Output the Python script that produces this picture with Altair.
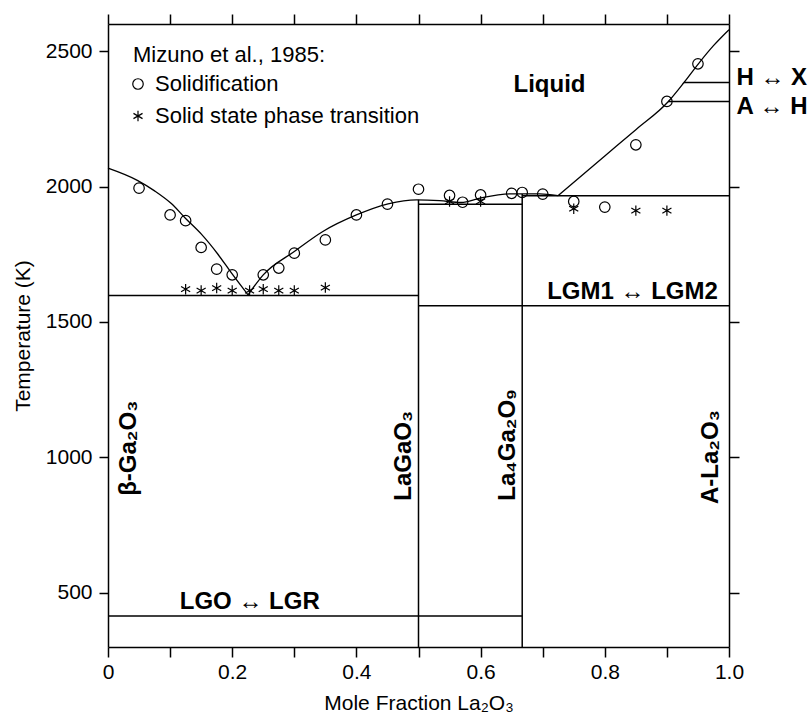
import altair as alt
import pandas as pd

# ---------------- data ----------------
# Mizuno et al., 1985: solidification
sol_x = [0.05, 0.10, 0.125, 0.15, 0.175, 0.20, 0.25, 0.275, 0.30, 0.35, 0.40, 0.45,
         0.50, 0.55, 0.571, 0.60, 0.65, 0.667, 0.70, 0.75, 0.80, 0.85, 0.90, 0.95]
sol_T = [1994, 1895, 1874, 1775, 1695, 1674, 1674, 1699, 1754, 1803, 1895, 1935,
         1990, 1967, 1942, 1969, 1975, 1978, 1972, 1945, 1924, 2154, 2314, 2453]

# Mizuno et al., 1985: solid state phase transition
ss_x = [0.125, 0.15, 0.175, 0.20, 0.228, 0.25, 0.275, 0.30, 0.35, 0.55, 0.60, 0.75, 0.85, 0.90]
ss_T = [1621, 1616, 1625, 1616, 1616, 1621, 1616, 1616, 1627, 1945, 1945, 1918, 1911, 1911]

# liquidus curves
liq_left_x = [0.0, 0.048, 0.075, 0.102, 0.125, 0.150, 0.177, 0.199, 0.2255]
liq_left_T = [2068, 2022, 1984, 1937, 1882, 1825, 1750, 1680, 1600]
liq_mid_x = [0.2255, 0.25, 0.30, 0.346, 0.40, 0.451, 0.497, 0.534, 0.569, 0.599, 0.65, 0.695, 0.7246]
liq_mid_T = [1600, 1674, 1760, 1834, 1895, 1936, 1951, 1948, 1941, 1957, 1973, 1973, 1966]
liq_high_x = [0.7246, 0.80, 0.85, 0.902, 0.9275, 0.951, 0.975, 1.0]
liq_high_T = [1966, 2113, 2210, 2313, 2384, 2454, 2520, 2579]

# phase boundary segments (x1, x2, T1, T2)
seg_x1 = [0.0, 0.0, 0.5, 0.5, 0.667, 0.667, 0.5, 0.902, 0.9275]
seg_x2 = [0.5, 0.667, 0.5, 0.667, 0.667, 1.0, 1.0, 1.0, 1.0]
seg_T1 = [1598, 414, 300, 1935, 300, 1966, 1560, 2314, 2384]
seg_T2 = [1598, 414, 1951, 1935, 1972, 1966, 1560, 2314, 2384]

# annotations
h_labels = ["Liquid", "H ↔ X", "A ↔ H", "LGO ↔ LGR"]
h_x = [0.653, 1.012, 1.012, 0.1155]
h_T = [2374, 2399, 2293, 465]
r_labels = ["LGM1 ↔ LGM2"]
r_x = [0.982]
r_T = [1609]
v_labels = ["β-Ga₂O₃", "LaGaO₃", "La₄Ga₂O₉", "A-La₂O₃"]
v_x = [0.0446, 0.4887, 0.6552, 0.9826]
v_T = [858, 840, 840, 828]

x_tick_values = [0.0, 0.1, 0.2, 0.3, 0.4, 0.5, 0.6, 0.7, 0.8, 0.9, 1.0]
y_tick_values = [500, 1000, 1500, 2000, 2500]

series_names = ["Solidification", "Solid state phase transition"]
ASTERISK = "M0,-1L0,1M-0.866,-0.5L0.866,0.5M-0.866,0.5L0.866,-0.5"

# ---------------- tables ----------------
pts = pd.concat([
    pd.DataFrame({"x": sol_x, "T": sol_T, "series": series_names[0]}),
    pd.DataFrame({"x": ss_x, "T": ss_T, "series": series_names[1]}),
])
curves = pd.concat([
    pd.DataFrame({"x": liq_left_x, "T": liq_left_T, "branch": "left"}),
    pd.DataFrame({"x": liq_mid_x, "T": liq_mid_T, "branch": "mid"}),
    pd.DataFrame({"x": liq_high_x, "T": liq_high_T, "branch": "high"}),
])
segs = pd.DataFrame({"x": seg_x1, "x2": seg_x2, "T": seg_T1, "T2": seg_T2})
hdf = pd.DataFrame({"label": h_labels, "x": h_x, "T": h_T})
rdf = pd.DataFrame({"label": r_labels, "x": r_x, "T": r_T})
vdf = pd.DataFrame({"label": v_labels, "x": v_x, "T": v_T})

FONT = "Liberation Sans"
xs = alt.Scale(domain=[0, 1], nice=False, zero=False)
ys = alt.Scale(domain=[300, 2600], nice=False, zero=False)

common = dict(domainColor="black", domainWidth=1.5, tickColor="black", tickWidth=1.5,
              grid=False, labelFont=FONT, labelColor="black", titleFont=FONT,
              titleColor="black", titleFontWeight="normal")

x_bottom = alt.Axis(orient="bottom", values=x_tick_values, tickSize=10,
                    labelExpr="datum.value == 0 ? '0' : (round(datum.value * 10) % 2 == 0 ? format(datum.value, '.1f') : '')",
                    labelFontSize=21, labelPadding=4, labelFlush=False, labelOverlap=False,
                    title="Mole Fraction La₂O₃", titleFontSize=21, titlePadding=10, **common)
x_top = alt.Axis(orient="top", values=x_tick_values, tickSize=10, labels=False, title=None, **common)
y_left = alt.Axis(orient="left", values=y_tick_values, tickSize=9, format="d",
                  labelFontSize=21, labelPadding=7, labelFlush=False, labelOverlap=False,
                  title="Temperature (K)", titleFontSize=21, titlePadding=12, **common)
y_right = alt.Axis(orient="right", values=y_tick_values, tickSize=10, labels=False, title=None, **common)

rules = alt.Chart(segs).mark_rule(color="black", strokeWidth=1.5).encode(
    x=alt.X("x:Q", scale=xs, axis=x_bottom),
    x2="x2:Q",
    y=alt.Y("T:Q", scale=ys, axis=y_left),
    y2="T2:Q",
)

lines = alt.Chart(curves).mark_line(color="black", strokeWidth=1.3, interpolate="monotone").encode(
    x=alt.X("x:Q", scale=xs, axis=x_top),
    y=alt.Y("T:Q", scale=ys, axis=y_right),
    detail="branch:N",
)

points = alt.Chart(pts).mark_point(filled=False, color="black", strokeWidth=1.2, size=110, opacity=1).encode(
    x=alt.X("x:Q", scale=xs, axis=None),
    y=alt.Y("T:Q", scale=ys, axis=None),
    shape=alt.Shape("series:N",
                    scale=alt.Scale(domain=series_names, range=["circle", ASTERISK]),
                    legend=alt.Legend(orient="none", legendX=25, legendY=21,
                                      title="Mizuno et al., 1985:", titleFont=FONT,
                                      titleFontSize=22, titleFontWeight="normal", titleColor="black",
                                      titleLimit=600,
                                      labelFont=FONT, labelFontSize=22, labelColor="black",
                                      symbolSize=110, symbolStrokeColor="black",
                                      symbolStrokeWidth=1.2, symbolFillColor="transparent",
                                      symbolOffset=-6,
                                      rowPadding=10, titlePadding=6, labelOffset=6, padding=0,
                                      labelLimit=600)),
)

htext = alt.Chart(hdf).mark_text(font=FONT, fontSize=24, fontWeight="bold", color="black",
                                 align="left", baseline="middle").encode(
    x=alt.X("x:Q", scale=xs, axis=None), y=alt.Y("T:Q", scale=ys, axis=None), text="label:N")

rtext = alt.Chart(rdf).mark_text(font=FONT, fontSize=24, fontWeight="bold", color="black",
                                 align="right", baseline="middle").encode(
    x=alt.X("x:Q", scale=xs, axis=None), y=alt.Y("T:Q", scale=ys, axis=None), text="label:N")

vtext = alt.Chart(vdf).mark_text(font=FONT, fontSize=24, fontWeight="bold", color="black",
                                 align="left", baseline="alphabetic", angle=270).encode(
    x=alt.X("x:Q", scale=xs, axis=None), y=alt.Y("T:Q", scale=ys, axis=None), text="label:N")

chart = alt.layer(rules, lines, points, htext, rtext, vtext).resolve_axis(
    x="independent", y="independent"
).properties(
    width=621, height=623,
    padding={"left": 108, "top": 24, "right": 83, "bottom": 68},
    autosize=alt.AutoSizeParams(type="none"),
    background="white",
).configure_view(stroke="transparent")

chart.save("out.html", embed_options={"renderer": "svg", "actions": False})
